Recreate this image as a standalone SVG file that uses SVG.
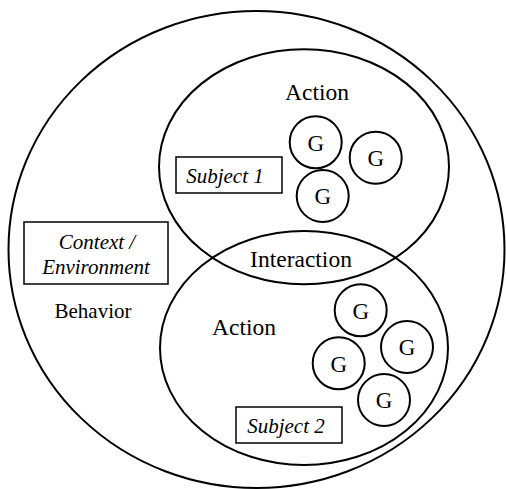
<svg xmlns="http://www.w3.org/2000/svg" width="506" height="489" viewBox="0 0 506 489">
<style>
.e{fill:none;stroke:#000;stroke-width:2}
.b{fill:#fff;stroke:#000;stroke-width:1.5}
</style>
<rect width="506" height="489" fill="#fff"/>
<g font-family="'Liberation Serif', 'Times New Roman', serif" text-anchor="middle" fill="#000">
<g id="behavior">
<ellipse class="e" cx="256.5" cy="249.5" rx="248" ry="238.5"/>
<text x="93" y="318" font-size="21">Behavior</text>
</g>
<g id="context" font-size="21" font-style="italic">
<rect class="b" x="24" y="222" width="144" height="62"/>
<text x="97" y="248.5">Context /</text>
<text x="96" y="273.5">Environment</text>
</g>
<g id="action1">
<ellipse class="e" cx="304" cy="166.7" rx="145" ry="117.5"/>
<text x="317" y="100" font-size="23.5">Action</text>
</g>
<g id="action2">
<ellipse class="e" cx="304" cy="348" rx="144" ry="117"/>
<text x="244" y="335" font-size="23.5">Action</text>
</g>
<g id="interaction">
<text x="301" y="267" font-size="23.5">Interaction</text>
</g>
<g id="subject1" font-size="21" font-style="italic">
<rect class="b" x="176" y="157" width="106" height="36"/>
<text x="225" y="183">Subject 1</text>
</g>
<g id="subject2" font-size="21" font-style="italic">
<rect class="b" x="236" y="407" width="106" height="36"/>
<text x="286" y="432.5">Subject 2</text>
</g>
<g font-size="23">
<g id="g1"><circle class="e" cx="315.7" cy="142.3" r="26"/><text x="315.7" y="150.5">G</text></g>
<g id="g2"><circle class="e" cx="375.7" cy="157.7" r="26"/><text x="375.7" y="166">G</text></g>
<g id="g3"><circle class="e" cx="322.7" cy="196" r="26"/><text x="322.7" y="204.3">G</text></g>
<g id="g4"><circle class="e" cx="360.7" cy="310.3" r="26"/><text x="360.7" y="318.6">G</text></g>
<g id="g5"><circle class="e" cx="407" cy="347" r="26"/><text x="407" y="355.3">G</text></g>
<g id="g6"><circle class="e" cx="338.7" cy="363.3" r="26"/><text x="338.7" y="371.6">G</text></g>
<g id="g7"><circle class="e" cx="384" cy="400" r="26"/><text x="384" y="408.3">G</text></g>
</g>
</g>
<g id="connectors"></g>
</svg>
